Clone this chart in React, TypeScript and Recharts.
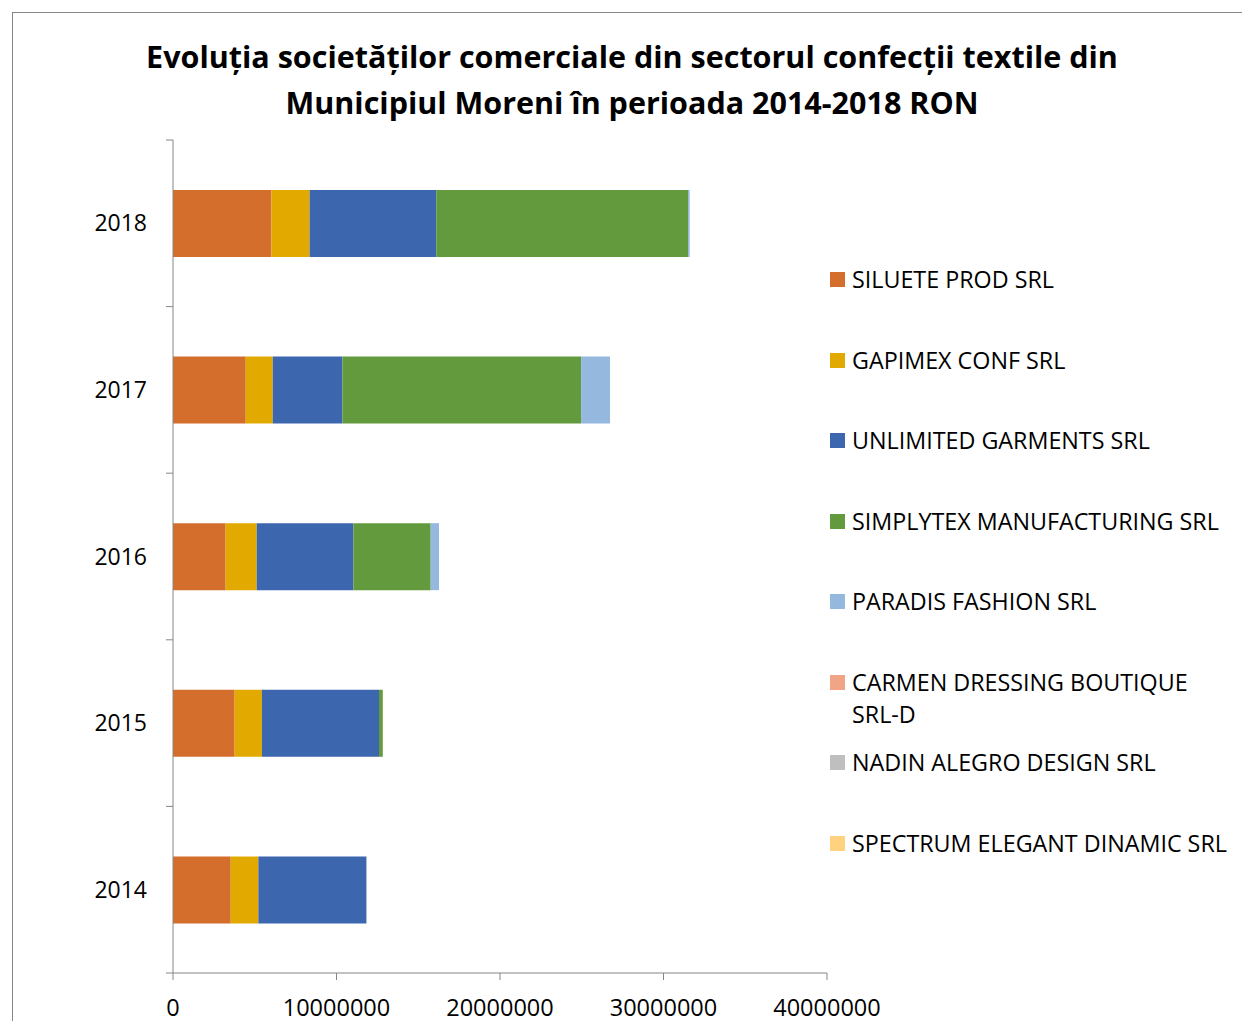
import React from 'react';
import { BarChart, Bar, XAxis, YAxis } from 'recharts';

const years = ['2014', '2015', '2016', '2017', '2018'];
const firms = [
  'SILUETE PROD SRL',
  'GAPIMEX CONF SRL',
  'UNLIMITED GARMENTS SRL',
  'SIMPLYTEX MANUFACTURING SRL',
  'PARADIS FASHION SRL',
  'CARMEN DRESSING BOUTIQUE SRL-D',
  'NADIN ALEGRO DESIGN SRL',
  'SPECTRUM ELEGANT DINAMIC SRL',
];
const colors = ['#D36E2C', '#E2AA00', '#3C66AE', '#639A3E', '#95B8DF', '#F2A486', '#BFBFBF', '#FFD27F'];

// values per firm, 2014..2018 (RON)
const siluete = [3530000, 3770000, 3220000, 4450000, 6020000];
const gapimex = [1690000, 1670000, 1900000, 1650000, 2340000];
const unlimited = [6610000, 7160000, 5910000, 4260000, 7740000];
const simplytex = [0, 230000, 4730000, 14600000, 15400000];
const paradis = [0, 0, 510000, 1770000, 100000];
const carmen = [0, 0, 0, 0, 0];
const nadin = [0, 0, 0, 0, 0];
const spectrum = [0, 0, 0, 0, 0];
const xTicks = [0, 10000000, 20000000, 30000000, 40000000];

const series = [siluete, gapimex, unlimited, simplytex, paradis, carmen, nadin, spectrum];
const data = years.map((y, i) => {
  const row: Record<string, string | number> = { year: y };
  firms.forEach((f, k) => { row[f] = series[k][i]; });
  return row;
});

const FONT = '"Open Sans", sans-serif';
const TOP = 140;
const BOTTOM = 973;
const band = (BOTTOM - TOP) / years.length;

const YTick = (props: any) => {
  const { x, y, payload, index } = props;
  const ax = x;
  return (
    <g>
      <line x1={ax - 7} x2={ax} y1={y - band / 2} y2={y - band / 2} stroke="#868686" />
      {index === 0 && <line x1={ax - 7} x2={ax} y1={y + band / 2} y2={y + band / 2} stroke="#868686" />}
      <text x={ax - 26} y={y} dy={8} textAnchor="end" fontSize={23} fill="#000" fontFamily={FONT}>{payload.value}</text>
    </g>
  );
};

export default function App() {
  return (
    <div style={{ position: 'absolute', left: 0, top: 0, width: 1242, height: 1021, overflow: 'hidden', background: '#fff' }}>
      <div style={{ position: 'absolute', left: 12, top: 12, width: 1240, height: 1020, border: '1px solid #868686', boxSizing: 'border-box' }} />
      <div style={{ position: 'absolute', left: 0, top: 33, width: 1264, textAlign: 'center', fontFamily: FONT, fontWeight: 700, fontSize: 30.5, lineHeight: '46px', color: '#000' }}>
        Evoluția societăților comerciale din sectorul confecții textile din<br />Municipiul Moreni în perioada 2014-2018 RON
      </div>
      <div style={{ position: 'absolute', left: 0, top: 0 }}>
        <BarChart width={900} height={1021} data={data} layout="vertical" barCategoryGap="30%"
          margin={{ top: TOP, bottom: 8, left: 113, right: 73 }}>
          <XAxis type="number" domain={[0, 40000000]} ticks={xTicks} interval={0}
            axisLine={{ stroke: '#868686' }} tickLine={{ stroke: '#868686' }} tickSize={7} height={40}
            tick={{ fontSize: 23.5, fill: '#000', fontFamily: FONT }} tickMargin={19} />
          <YAxis type="category" dataKey="year" reversed width={60} axisLine={{ stroke: '#868686' }}
            tickLine={false} tickSize={0} tickMargin={0} tick={<YTick />} interval={0} />
          {firms.map((f, k) => (
            <Bar key={f} dataKey={f} stackId="a" fill={colors[k]} isAnimationActive={false} />
          ))}
        </BarChart>
      </div>
      {firms.map((f, k) => (
        <div key={f} style={{ position: 'absolute', left: 830, top: 279 + k * 80.57 - 16, width: 410, display: 'flex', alignItems: 'flex-start', fontFamily: FONT, fontSize: 23.3, lineHeight: '32px', color: '#000' }}>
          <div style={{ width: 15, height: 15, background: colors[k], marginTop: 9, marginRight: 7, flexShrink: 0 }} />
          <div style={{ width: 385 }}>{f}</div>
        </div>
      ))}
    </div>
  );
}
